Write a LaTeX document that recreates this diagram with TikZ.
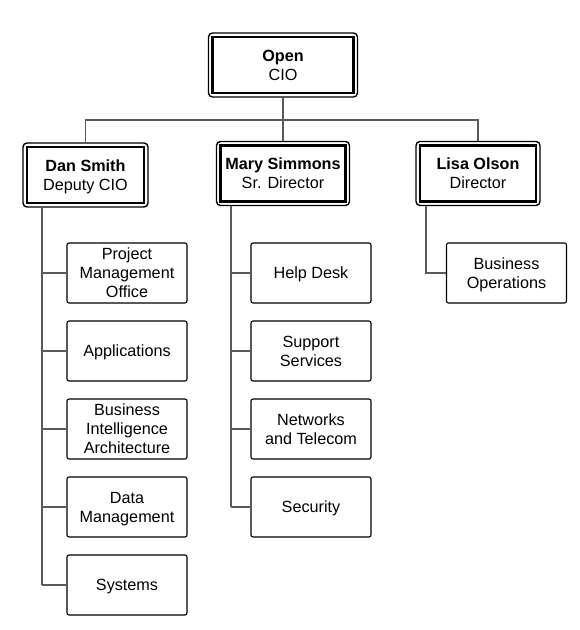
\documentclass[tikz,border=0pt]{standalone}
\usepackage{fontspec}
\setmainfont{Liberation Sans}
\usetikzlibrary{fit}
\begin{document}
\begin{tikzpicture}[x=1pt,y=-1pt,
  txt/.style={font=\fontsize{16.2}{19}\selectfont, align=center, inner sep=0pt, text depth=0pt},
  head/.style={txt, draw=black, line width=2.2pt, minimum height=56pt},
  frame/.style={draw=black, line width=1.4pt, rounded corners=4pt, inner sep=2.9pt},
  unit/.style={txt, draw=black, line width=1.1pt, rounded corners=2pt, minimum width=120pt, minimum height=60pt},
  conn/.style={draw=black!65, line width=1.2pt}]
\useasboundingbox (0,0) rectangle (580,630);
% heads
\node[head, minimum width=141pt] (open) at (283,65) {\textbf{Open}\\CIO};
\node[frame, fit=(open)] (openF) {};
\node[head, minimum width=117pt] (dan) at (85.5,175) {\textbf{Dan Smith}\\Deputy CIO};
\node[frame, fit=(dan)] (danF) {};
\node[head, minimum width=125pt] (mary) at (283,173.5) {\textbf{Mary Simmons}\\Sr. Director};
\node[frame, fit=(mary)] (maryF) {};
\node[head, minimum width=116pt] (lisa) at (478,173.5) {\textbf{Lisa Olson}\\Director};
\node[frame, fit=(lisa)] (lisaF) {};
% units
\node[unit] (pmo) at (127,273) {Project\\Management\\Office};
\node[unit] (app) at (127,351) {Applications};
\node[unit] (bia) at (127,429) {Business\\Intelligence\\Architecture};
\node[unit] (dm)  at (127,507) {Data\\Management};
\node[unit] (sys) at (127,585) {Systems};
\node[unit] (help) at (311,273) {Help Desk};
\node[unit] (sup)  at (311,351) {Support\\Services};
\node[unit] (net)  at (311,429) {Networks\\and Telecom};
\node[unit] (sec)  at (311,507) {Security};
\node[unit] (bop)  at (506.5,273) {Business\\Operations};
% connectors
\coordinate (bus) at (0,120);
\coordinate (dsp) at (42,0);
\coordinate (msp) at (231,0);
\coordinate (lsp) at (426,0);
\draw[conn] (openF.south) -- (maryF.north);
\draw[conn] (danF.north) -- (danF.north |- bus) -- (lisaF.north |- bus) -- (lisaF.north);
\draw[conn] (danF.south -| dsp) -- (dsp |- sys.west);
\foreach \c in {pmo,app,bia,dm,sys} \draw[conn] (\c.west) -- (\c.west -| dsp);
\draw[conn] (maryF.south -| msp) -- (msp |- sec.west);
\foreach \c in {help,sup,net,sec} \draw[conn] (\c.west) -- (\c.west -| msp);
\draw[conn] (lisaF.south -| lsp) -- (lsp |- bop.west) -- (bop.west);
\end{tikzpicture}
\end{document}
